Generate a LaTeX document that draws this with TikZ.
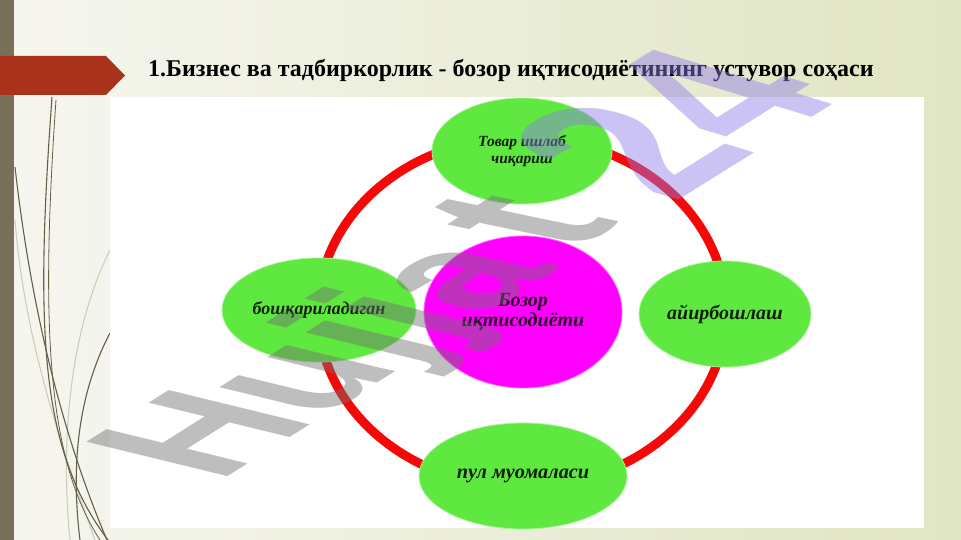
\documentclass[tikz,border=0pt]{standalone}
\usepackage{fontspec}
\setmainfont{Liberation Serif}
\newfontfamily\wmfont{Liberation Sans}
\usetikzlibrary{shapes.geometric}
\definecolor{bgL}{RGB}{246,246,240}
\definecolor{bgR}{RGB}{224,229,194}
\definecolor{barC}{RGB}{122,112,90}
\definecolor{tabC}{RGB}{169,50,27}
\definecolor{ringC}{RGB}{245,8,8}
\definecolor{ovalG}{RGB}{94,232,64}
\definecolor{ovalM}{RGB}{255,0,255}
\definecolor{txtD}{RGB}{16,30,10}
\definecolor{wmGray}{RGB}{112,112,112}
\definecolor{wmLav}{RGB}{144,122,233}
\definecolor{wispD}{RGB}{100,96,72}
\definecolor{wispL}{RGB}{205,205,188}
\begin{document}
\begin{tikzpicture}[x=1pt,y=-1pt,
  oval/.style={ellipse, fill=ovalG, draw=ovalG!55!white, line width=0.8pt, inner sep=0pt},
  lbl/.style={font=\bfseries\itshape, text=txtD, align=center},
  wisp/.style={wispD, line width=1.1pt},
  wispl/.style={wispL, line width=1.1pt},
  wmark/.style={transform shape, anchor=base west, inner sep=0pt, text opacity=0.45,
    font=\wmfont\bfseries\fontsize{100}{100}\selectfont}]
\useasboundingbox (0,0) rectangle (961,540);
\shade[left color=bgL, right color=bgR] (0,0) rectangle (961,540);
% wisps
\draw[wispl] (110,250) .. controls (70,330) and (60,440) .. (70,540);
\draw[wispl] (15,220) .. controls (25,350) and (70,470) .. (95,540);
\draw[wisp] (52,97) .. controls (35,330) and (40,450) .. (108,540);
\draw[wisp, line width=0.8pt] (56,100) .. controls (40,330) and (48,460) .. (100,540);
\draw[wisp] (15,167) .. controls (30,300) and (60,430) .. (107,540);
\draw[wisp] (110,333) .. controls (80,390) and (70,460) .. (80,540);
% left bar and tab
\fill[barC] (0,0) rectangle (14,540);
\fill[tabC] (0,56) -- (106,56) -- (125,75.5) -- (106,95) -- (0,95) -- cycle;
% white panel
\fill[white] (110,97) rectangle (924,528);
% title
\node[anchor=base west, inner sep=0pt, font=\bfseries\fontsize{24}{28}\selectfont] (title) at (148,77)
  {1.Бизнес ва тадбиркорлик - бозор иқтисодиётининг устувор соҳаси};
% ring
\draw[ringC, line width=9pt] (522,312) ellipse [x radius=204, y radius=175];
% ovals
\node[oval, minimum width=180pt, minimum height=106pt, lbl, font=\bfseries\itshape\fontsize{15.5}{16.5}\selectfont] (top) at (522,151) {Товар ишлаб\\чиқариш};
\node[oval, minimum width=194pt, minimum height=104pt, lbl, font=\bfseries\itshape\fontsize{18}{20}\selectfont] (left) at (319,310) {бошқариладиган};
\node[oval, minimum width=172pt, minimum height=106pt, lbl, font=\bfseries\itshape\fontsize{20}{22}\selectfont] (right) at (725,314) {айирбошлаш};
\node[oval, minimum width=208pt, minimum height=106pt, lbl, font=\bfseries\itshape\fontsize{20.3}{22}\selectfont] (bottom) at (523,476) {пул муомаласи};
\node[oval, fill=ovalM, draw=ovalM!60!white, minimum width=198pt, minimum height=152pt, lbl, text=black!85!ovalM, font=\bfseries\itshape\fontsize{20}{20}\selectfont] (centre) at (523,312) {Бозор\\иқтисодиёти};
% watermark
\begin{scope}[cm={1.40,0.88,-2.05,0.50,(218,483)}]
\node[wmark] (wmA) at (0,0) {\textcolor{wmGray}{Hujja}};
\end{scope}
\begin{scope}[cm={1.50,0.95,-2.40,0.50,(572,253)}]
\node[wmark] (wmB) at (0,0) {\textcolor{wmGray}{t}};
\end{scope}
\begin{scope}[cm={1.57,0.98,-2.60,0.79,(673,204)}]
\node[wmark] (wmC) at (0,0) {\textcolor{wmLav}{24}};
\end{scope}
\end{tikzpicture}
\end{document}
